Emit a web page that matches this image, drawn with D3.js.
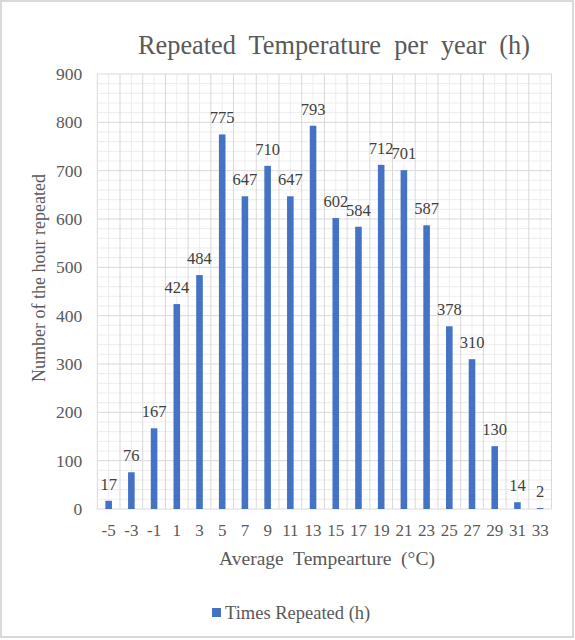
<!DOCTYPE html>
<html>
<head>
<meta charset="utf-8">
<script src="https://cdn.jsdelivr.net/npm/d3@7"></script>
<style>
  html, body { margin: 0; padding: 0; background: #fff; }
  svg { display: block; }
  svg text { font-family: "Liberation Serif", "Times New Roman", Tinos, "DejaVu Serif", serif !important; }
</style>
</head>
<body>
<svg id="chart" width="575" height="640"></svg>
<script>
const categories = ["-5","-3","-1","1","3","5","7","9","11","13","15","17","19","21","23","25","27","29","31","33"];
const values = [17, 76, 167, 424, 484, 775, 647, 710, 647, 793, 602, 584, 712, 701, 587, 378, 310, 130, 14, 2];
const yTicks = [0, 100, 200, 300, 400, 500, 600, 700, 800, 900];
const seriesName = "Times Repeated (h)";
const titleText = "Repeated  Temperature  per  year  (h)";
const xTitle = "Average  Tempearture  (°C)";
const yTitle = "Number of the hour repeated";

(function () {
const FONT = '"Liberation Serif", "Times New Roman", serif';
const svg = d3.select("#chart");
const W = 575, H = 640;
const pLeft = 97.3, pRight = 551.5, pTop = 74, pBottom = 509;

svg.append("rect").attr("x", 1).attr("y", 1).attr("width", W - 3).attr("height", H - 4)
  .attr("fill", "#fff").attr("stroke", "#d9d9d9").attr("stroke-width", 2);

const x = d3.scaleBand().domain(categories).range([pLeft, pRight]).padding(0);
const y = d3.scaleLinear().domain([0, 900]).range([pBottom, pTop]);

const grid = svg.append("g");
d3.range(0, 901, 20).filter(v => v % 100 !== 0).forEach(v => {
  grid.append("line").attr("x1", pLeft).attr("x2", pRight).attr("y1", y(v)).attr("y2", y(v))
    .attr("stroke", "#ededed").attr("stroke-width", 1);
});
categories.forEach(c => {
  const cx = x(c) + x.bandwidth() / 2;
  grid.append("line").attr("x1", cx).attr("x2", cx).attr("y1", pTop).attr("y2", pBottom)
    .attr("stroke", "#ededed").attr("stroke-width", 1);
});
yTicks.forEach(v => {
  grid.append("line").attr("x1", pLeft).attr("x2", pRight).attr("y1", y(v)).attr("y2", y(v))
    .attr("stroke", "#d9d9d9").attr("stroke-width", 1);
});
categories.concat(["_end"]).forEach((c, i) => {
  const bx = i < categories.length ? x(c) : pRight;
  grid.append("line").attr("x1", bx).attr("x2", bx).attr("y1", pTop).attr("y2", pBottom)
    .attr("stroke", "#d9d9d9").attr("stroke-width", 1);
});

const yAxis = d3.axisLeft(y).tickValues(yTicks).tickSize(0).tickPadding(15);
const ya = svg.append("g").attr("transform", `translate(${pLeft},0)`).call(yAxis);
ya.attr("font-family", FONT);
ya.select(".domain").remove();
ya.selectAll("text").style("font-family", FONT).style("font-size", "17.5px").attr("fill", "#595959");

const xAxis = d3.axisBottom(x).tickSize(0).tickPadding(15);
const xa = svg.append("g").attr("transform", `translate(0,${pBottom})`).call(xAxis);
xa.attr("font-family", FONT);
xa.select(".domain").remove();
xa.selectAll("text").style("font-family", FONT).style("font-size", "17px").attr("fill", "#595959");

const bw = x.bandwidth() * 0.29;
svg.append("g").selectAll("rect").data(values).join("rect")
  .attr("x", (d, i) => x(categories[i]) + x.bandwidth() / 2 - bw / 2)
  .attr("y", d => y(d))
  .attr("width", bw)
  .attr("height", d => y(0) - y(d))
  .attr("fill", "#4472c4");

svg.append("g").selectAll("text").data(values).join("text")
  .attr("x", (d, i) => x(categories[i]) + x.bandwidth() / 2)
  .attr("y", d => y(d) - 11)
  .attr("text-anchor", "middle")
  .style("font-family", FONT).style("font-size", "16.5px")
  .attr("fill", "#404040")
  .text(d => d);

svg.append("text").attr("x", 334).attr("y", 54).attr("text-anchor", "middle")
  .style("font-family", FONT).style("font-size", "26.3px").attr("fill", "#595959")
  .style("white-space", "pre").text(titleText);

svg.append("text").attr("x", 327).attr("y", 565).attr("text-anchor", "middle")
  .style("font-family", FONT).style("font-size", "19.5px").attr("fill", "#595959")
  .style("white-space", "pre").text(xTitle);

svg.append("text").attr("transform", `translate(45,278) rotate(-90)`).attr("text-anchor", "middle")
  .style("font-family", FONT).style("font-size", "18px").attr("fill", "#595959").text(yTitle);

svg.append("rect").attr("x", 212).attr("y", 608).attr("width", 9).attr("height", 9).attr("fill", "#4472c4");
svg.append("text").attr("x", 225).attr("y", 619)
  .style("font-family", FONT).style("font-size", "18.5px").attr("fill", "#595959").text(seriesName);
})();
</script>
</body>
</html>
